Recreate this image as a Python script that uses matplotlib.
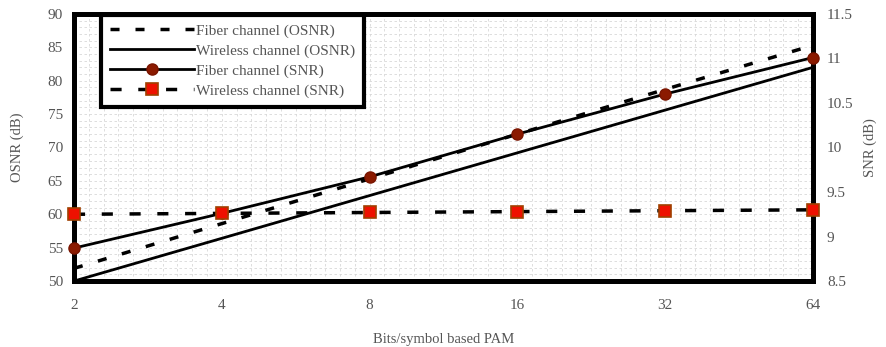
import matplotlib
matplotlib.use("Agg")
import matplotlib.pyplot as plt
from matplotlib.ticker import MultipleLocator

plt.rcParams['font.family'] = ['Liberation Serif', 'DejaVu Serif']

# PAM orders on the x axis (evenly spaced, log2)
pam_orders = ['2', '4', '8', '16', '32', '64']

# OSNR (left axis, dB)
fiber_osnr = [51.9, 58.6, 65.3, 72.0, 78.7, 85.3]
wireless_osnr = [50.0, 56.4, 62.8, 69.2, 75.6, 82.0]

# SNR (right axis, dB)
fiber_snr = [8.87, 9.26, 9.67, 10.15, 10.60, 11.01]
wireless_snr = [9.25, 9.26, 9.27, 9.28, 9.29, 9.30]

txt_color = '#555555'
x = list(range(len(pam_orders)))

fig = plt.figure(figsize=(8.87, 3.47), dpi=100)
ax = fig.add_axes([0.0834, 0.19, 0.8332, 0.77])
ax2 = ax.twinx()

l1, = ax.plot(x, fiber_osnr, color='black', lw=2.5, dashes=(2.6, 4.6),
              label='Fiber channel (OSNR)', clip_on=False, zorder=3)
l2, = ax.plot(x, wireless_osnr, color='black', lw=2.0,
              label='Wireless channel (OSNR)', clip_on=False, zorder=3)
l3, = ax2.plot(x, fiber_snr, color='black', lw=2.0, marker='o', ms=8,
               mfc='#8b1a00', mec='#7a1500', label='Fiber channel (SNR)',
               clip_on=False, zorder=4)
l4, = ax2.plot(x, wireless_snr, color='black', lw=2.5, dashes=(3.2, 4.8),
               marker='s', ms=9, mfc='#ee1100', mec='#a04000', mew=1.2,
               label='Wireless channel (SNR)', clip_on=False, zorder=4)

ax.set_xlim(0, 5)
ax.set_ylim(50, 90)
ax2.set_ylim(8.5, 11.5)

ax.set_xticks(x)
ax.set_xticklabels(pam_orders)
ax.set_yticks(range(50, 91, 5))
ax2.set_yticks([8.5, 9, 9.5, 10, 10.5, 11, 11.5])
ax2.set_yticklabels(['8.5', '9', '9.5', '10', '10.5', '11', '11.5'])

# faint dense background grid
ax.xaxis.set_minor_locator(MultipleLocator(0.1))
ax.yaxis.set_minor_locator(MultipleLocator(1))
ax.grid(True, which='both', color='#d8d8d8', lw=0.6, ls=(0, (3, 3)))
ax.set_axisbelow(True)

for a in (ax, ax2):
    a.tick_params(which='both', length=0, labelsize=11, colors=txt_color)
    for s in a.spines.values():
        s.set_linewidth(3.5)
        s.set_color('black')
ax.tick_params(axis='x', pad=13)
ax.tick_params(axis='y', pad=8)
ax2.tick_params(axis='y', pad=10)

ax.set_xlabel('Bits/symbol based PAM', fontsize=10.5, color=txt_color, labelpad=15)
ax.set_ylabel('OSNR (dB)', fontsize=10.5, color=txt_color, labelpad=17)
ax2.set_ylabel('SNR (dB)', fontsize=10.5, color=txt_color, labelpad=7)

leg = ax2.legend(handles=[l1, l2, l3, l4], loc='upper left',
                 bbox_to_anchor=(0.114, 0.957), bbox_transform=fig.transFigure,
                 fontsize=11, handlelength=5.5, handletextpad=0.1,
                 labelspacing=0.4, borderpad=0.6, fancybox=False, framealpha=1,
                 borderaxespad=0)
leg.get_frame().set_edgecolor('black')
leg.get_frame().set_linewidth(3.0)
for t in leg.get_texts():
    t.set_color(txt_color)
leg.set_zorder(10)

fig.savefig('out.png', dpi=100)
